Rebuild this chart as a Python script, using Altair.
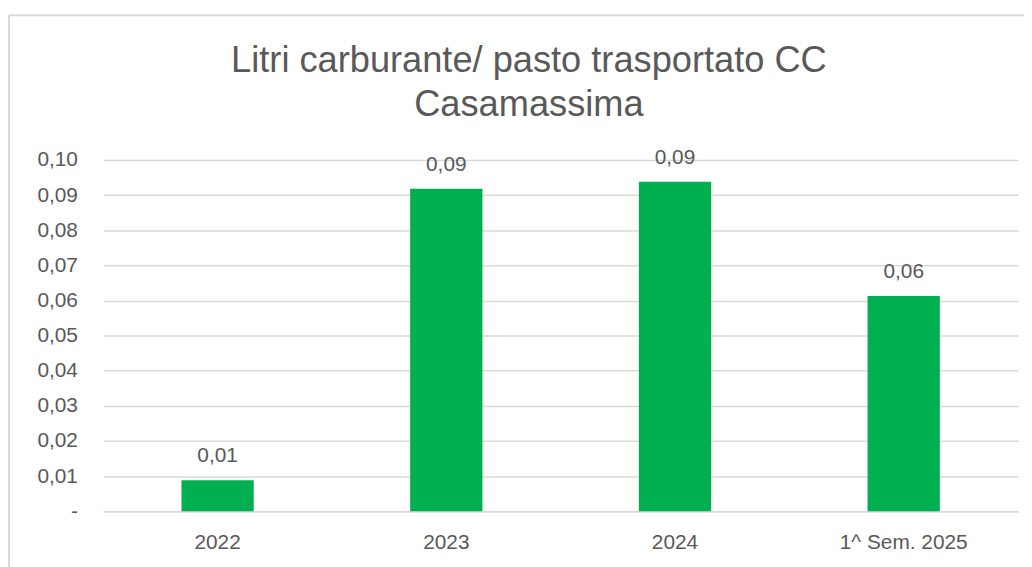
import altair as alt
import pandas as pd

categories = ["2022", "2023", "2024", "1^ Sem. 2025"]
values = [0.0088, 0.0918, 0.0938, 0.0613]
y_ticks = [0.0, 0.01, 0.02, 0.03, 0.04, 0.05, 0.06, 0.07, 0.08, 0.09, 0.10]
title_lines = ["Litri carburante/ pasto trasportato CC", "Casamassima"]

df = pd.DataFrame({"cat": categories, "val": values})

FONT = "Liberation Sans"
TXT = "#595959"
GRID = "#d9d9d9"
W, H = 922, 354

x_enc = alt.X("cat:N", sort=categories, title=None,
              scale=alt.Scale(paddingInner=0.684, paddingOuter=0.342),
              axis=alt.Axis(labelAngle=0, labelFontSize=21, labelColor=TXT, labelFont=FONT,
                            labelPadding=21, ticks=False, domainColor=GRID, domainWidth=1.5))
y_enc = alt.Y("val:Q", title=None, scale=alt.Scale(domain=[0, 0.1], nice=False),
              axis=alt.Axis(values=y_ticks, labelFontSize=21, labelColor=TXT, labelFont=FONT,
                            labelPadding=26, ticks=False, domain=False, labelOverlap=False,
                            gridColor=GRID, gridWidth=1.5,
                            labelExpr="datum.value == 0 ? '-\u00a0\u00a0\u00a0' : replace(format(datum.value, '.2f'), '.', ',')"))

base = alt.Chart(df)

bars = base.mark_bar(color="#00B050").encode(x=x_enc, y=y_enc)

labels = base.mark_text(fontSize=21, color=TXT, font=FONT, baseline="alphabetic", dy=-18).transform_calculate(
    lbl="replace(format(datum.val, '.2f'), '.', ',')"
).encode(x=x_enc, y=y_enc, text="lbl:N")

t1 = alt.Chart(pd.DataFrame({"t": [title_lines[0]]})).mark_text(
    fontSize=36.5, color=TXT, font=FONT, baseline="alphabetic", align="center"
).encode(x=alt.value(429), y=alt.value(-89), text="t:N")
t2 = alt.Chart(pd.DataFrame({"t": [title_lines[1]]})).mark_text(
    fontSize=36.5, color=TXT, font=FONT, baseline="alphabetic", align="center"
).encode(x=alt.value(429), y=alt.value(-44), text="t:N")

border_top = alt.Chart(pd.DataFrame({"k": [0]})).mark_rule(color=GRID, strokeWidth=2).encode(
    x=alt.value(-95), x2=alt.value(W + 20), y=alt.value(-146)
)
border_left = alt.Chart(pd.DataFrame({"k": [0]})).mark_rule(color=GRID, strokeWidth=2).encode(
    x=alt.value(-95), y=alt.value(-146), y2=alt.value(H + 60)
)

chart = alt.layer(border_top, border_left, bars, labels, t1, t2).properties(
    width=W, height=H,
    autosize=alt.AutoSizeParams(type="none"),
    padding={"left": 96, "top": 151, "right": 6, "bottom": 54},
).configure(background="white").configure_view(stroke=None)

chart.save("out.html", embed_options={"renderer": "svg", "actions": False})
